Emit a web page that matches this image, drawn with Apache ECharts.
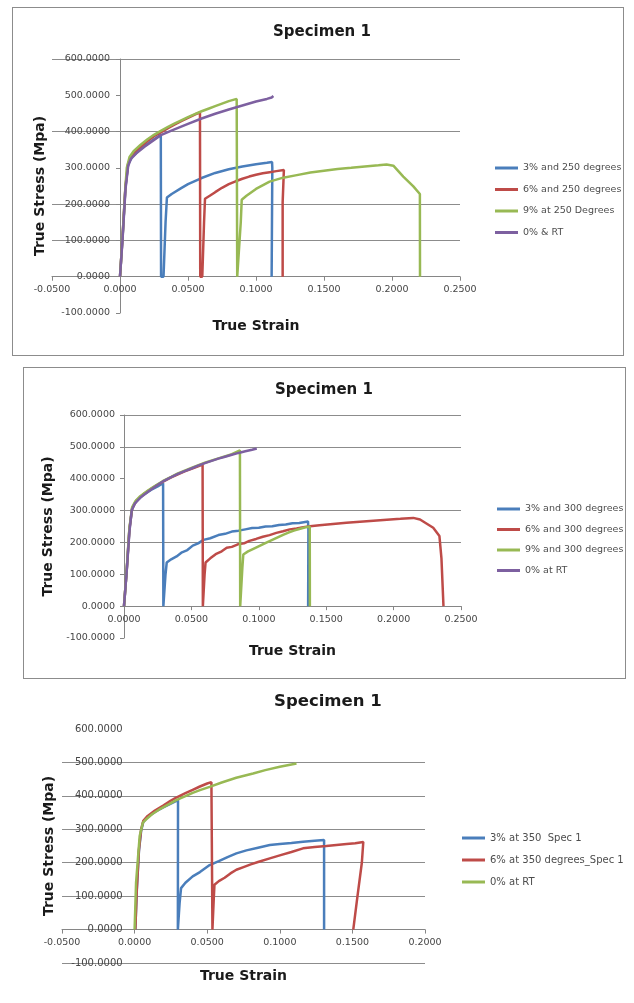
<!DOCTYPE html>
<html>
<head>
<meta charset="utf-8">
<script src="https://cdn.jsdelivr.net/npm/echarts@6/dist/echarts.min.js"></script>
<style>
  body { margin: 0; background: #fff; }
  .box { position: absolute; box-sizing: border-box; }
  #c1 { left: 12px; top: 7px; width: 612px; height: 349px; border: 1px solid #8c8c8c; }
  #c2 { left: 23px; top: 367px; width: 603px; height: 312px; border: 1px solid #8c8c8c; }
  #c3 { left: 23px; top: 680px; width: 611px; height: 323px; }
</style>
</head>
<body>
<div id="c1" class="box"></div>
<div id="c2" class="box"></div>
<div id="c3" class="box"></div>
<script>
// [true strain, true stress (MPa)]

// --- 250 degrees ---
const names250 = ['3% and 250 degrees', '6% and 250 degrees', '9% at 250 Degrees', '0% & RT'];
const s250_3pct = [[0,0],[0.002,115],[0.004,245],[0.006,310],[0.009,330],[0.015,352],[0.020,366],[0.025,379],[0.030,391],
  [0.0302,0],[0.032,0],[0.0335,150],[0.0345,218],[0.038,228],[0.045,244],[0.050,255],[0.060,272],[0.070,286],[0.080,296],
  [0.090,304],[0.100,310],[0.108,314],[0.1118,316],[0.112,300],[0.1115,0]];
const s250_6pct = [[0,0],[0.002,118],[0.004,248],[0.006,312],[0.009,335],[0.015,358],[0.020,373],[0.025,387],[0.030,398],
  [0.035,409],[0.040,419],[0.045,429],[0.050,438],[0.055,447],[0.0588,453],[0.0590,0],[0.0605,0],[0.0618,150],[0.0625,215],
  [0.066,223],[0.070,233],[0.075,245],[0.080,255],[0.085,263],[0.090,270],[0.095,276],[0.100,281],[0.105,285],[0.110,288],
  [0.115,291],[0.1205,294],[0.1212,292],[0.1196,205],[0.1196,0]];
const s250_9pct = [[0,0],[0.002,118],[0.004,250],[0.005,300],[0.007,330],[0.010,346],[0.015,363],[0.020,378],[0.025,391],
  [0.030,402],[0.035,412],[0.040,422],[0.045,431],[0.050,440],[0.055,448],[0.060,456],[0.065,463],[0.070,470],[0.075,477],
  [0.080,484],[0.0858,490],[0.0862,0],[0.0875,0],[0.0888,150],[0.0895,212],[0.093,223],[0.100,242],[0.110,262],[0.120,273],
  [0.130,280],[0.140,287],[0.150,292],[0.160,297],[0.170,300],[0.180,304],[0.190,307],[0.196,309],[0.201,306],[0.2083,276],
  [0.2157,249],[0.2205,228],[0.2206,0]];
const s250_rt = [[0,0],[0.002,110],[0.004,240],[0.006,305],[0.008,325],[0.012,340],[0.018,358],[0.024,374],[0.030,390],
  [0.040,406],[0.050,421],[0.060,436],[0.070,449],[0.080,461],[0.090,472],[0.100,483],[0.108,490],[0.1115,494],[0.1128,498]];

// --- 300 degrees ---
const names300 = ['3% and 300 degrees', '6% and 300 degrees', '9% and 300 degrees', '0% at RT'];
const s300_3pct = [[0,0],[0.002,112],[0.004,240],[0.006,305],[0.009,330],[0.014,348],[0.020,365],[0.025,376],[0.029,386],
  [0.0292,0],[0.0298,0],[0.0308,100],[0.0317,137],[0.035,147],[0.039,156],[0.043,169],[0.047,176],[0.051,190],[0.055,197],
  [0.059,208],[0.064,213],[0.070,223],[0.075,227],[0.080,234],[0.085,237],[0.090,241],[0.095,245],[0.100,246],[0.105,250],
  [0.110,251],[0.115,255],[0.120,256],[0.125,260],[0.130,261],[0.1365,266],[0.1368,240],[0.1366,0]];
const s300_6pct = [[0,0],[0.002,112],[0.004,240],[0.006,306],[0.009,330],[0.014,350],[0.020,368],[0.025,381],[0.030,393],
  [0.035,404],[0.040,414],[0.045,423],[0.050,431],[0.055,439],[0.0583,444],[0.0585,0],[0.059,0],[0.0598,100],[0.0605,137],
  [0.064,150],[0.068,163],[0.0725,172],[0.0762,183],[0.080,186],[0.0845,194],[0.089,197],[0.093,205],[0.098,211],[0.103,218],
  [0.108,223],[0.113,230],[0.118,235],[0.123,241],[0.128,244],[0.133,248],[0.138,251],[0.145,254],[0.155,258],[0.165,262],
  [0.175,265],[0.185,268],[0.195,271],[0.205,274],[0.2146,277],[0.2196,272],[0.2294,246],[0.234,220],[0.2355,150],[0.237,0]];
const s300_9pct = [[0,0],[0.002,115],[0.004,245],[0.006,310],[0.0085,330],[0.012,345],[0.018,364],[0.024,380],[0.029,393],
  [0.035,406],[0.040,417],[0.050,434],[0.060,450],[0.070,464],[0.080,477],[0.086,489],[0.0862,0],[0.0868,0],[0.0878,120],
  [0.0885,162],[0.092,172],[0.096,180],[0.101,190],[0.106,200],[0.110,208],[0.114,216],[0.118,224],[0.122,231],[0.126,237],
  [0.130,242],[0.134,247],[0.1378,250],[0.1379,0]];
const s300_rt = [[0,0],[0.002,108],[0.004,232],[0.0057,300],[0.008,322],[0.012,340],[0.018,360],[0.024,378],[0.029,392],
  [0.035,405],[0.040,415],[0.045,424],[0.050,432],[0.055,441],[0.060,449],[0.065,456],[0.070,463],[0.075,469],[0.080,475],
  [0.085,481],[0.090,486],[0.095,491],[0.0985,495]];

// --- 350 degrees ---
const names350 = ['3% at 350  Spec 1', '6% at 350 degrees_Spec 1', '0% at RT'];
const s350_3pct = [[0.0005,0],[0.0015,115],[0.003,235],[0.0045,295],[0.006,322],[0.009,337],[0.014,352],[0.020,366],
  [0.025,377],[0.0299,387],[0.0298,0],[0.030,0],[0.031,80],[0.032,124],[0.035,140],[0.040,159],[0.045,172],[0.0517,193],
  [0.058,205],[0.064,217],[0.0701,228],[0.077,237],[0.085,245],[0.0931,253],[0.100,256],[0.108,259],[0.116,263],[0.124,266],
  [0.1305,268],[0.1305,0]];
const s350_6pct = [[0.0005,0],[0.0015,120],[0.003,240],[0.0045,300],[0.006,325],[0.009,340],[0.014,356],[0.020,372],
  [0.025,386],[0.0287,395],[0.035,408],[0.040,418],[0.045,428],[0.050,437],[0.0529,441],[0.0536,0],[0.054,0],[0.0545,90],
  [0.055,134],[0.058,145],[0.062,155],[0.066,168],[0.0701,179],[0.075,187],[0.080,195],[0.085,202],[0.0931,213],[0.100,222],
  [0.108,232],[0.116,243],[0.124,247],[0.132,250],[0.139,253],[0.146,256],[0.152,258],[0.1575,262],[0.1565,200],
  [0.1535,100],[0.1506,0]];
const s350_rt = [[0,0],[0.001,140],[0.0035,280],[0.0057,320],[0.008,330],[0.012,345],[0.018,362],[0.024,376],[0.0287,387],
  [0.035,399],[0.040,409],[0.045,417],[0.0517,427],[0.060,440],[0.070,454],[0.0816,467],[0.090,477],[0.100,487],[0.1115,497]];

const BLUE = '#4a7ebb', RED = '#be4b48', GREEN = '#98b954', PURPLE = '#7d60a0';
const GRID = '#8c8c8c';
const FONT = 'DejaVu Sans';

function lines(names, datas, colors) {
    return names.map((n, i) => ({
        name: n,
        type: 'line',
        data: datas[i],
        symbol: 'none',
        color: colors[i],
        lineStyle: { width: 2.5, color: colors[i] }
    }));
}

function build(id, o) {
    const chart = echarts.init(document.getElementById(id));
    // axes cross at (0, 0) like the Excel original: shift each axis to the zero line
    const g = o.grid;
    const xOffset = -(0 - -100) / 700 * g.height;
    const yOffset = -(0 - o.xMin) / (o.xMax - o.xMin) * g.width;
    chart.setOption({
        animation: false,
        textStyle: { fontFamily: FONT },
        title: {
            text: 'Specimen 1',
            left: o.titleLeft,
            top: o.titleTop,
            padding: 0,
            textStyle: { fontFamily: FONT, fontSize: o.titleSize, fontWeight: 'bold', color: '#1a1a1a' }
        },
        legend: {
            orient: 'vertical',
            left: o.legLeft,
            top: o.legTop,
            padding: 0,
            icon: 'rect',
            itemWidth: 23,
            itemHeight: 3,
            itemGap: o.legGap,
            data: o.names,
            textStyle: { fontFamily: FONT, fontSize: o.legSize, lineHeight: 12, color: '#4d4d4d' }
        },
        grid: Object.assign({ outerBoundsMode: 'none', containLabel: false }, g),
        xAxis: {
            type: 'value',
            min: o.xMin,
            max: o.xMax,
            interval: 0.05,
            position: 'bottom',
            offset: xOffset,
            name: 'True Strain',
            nameLocation: 'middle',
            nameGap: o.xNameGap,
            nameTextStyle: { fontFamily: FONT, fontSize: 14, fontWeight: 'bold', color: '#1a1a1a' },
            axisLine: { onZero: false, lineStyle: { color: '#868686', width: 1 } },
            axisTick: { length: 4, lineStyle: { color: '#868686' } },
            axisLabel: { formatter: v => v.toFixed(4), fontSize: 9.5, color: '#454545', margin: 8 },
            splitLine: { show: false }
        },
        yAxis: {
            type: 'value',
            min: -100,
            max: 600,
            interval: 100,
            position: 'left',
            offset: yOffset,
            name: 'True Stress (Mpa)',
            nameLocation: 'middle',
            nameGap: o.yNameGap,
            nameTextStyle: { fontFamily: FONT, fontSize: 14, fontWeight: 'bold', color: '#1a1a1a' },
            axisLine: { show: o.yLine, onZero: false, lineStyle: { color: '#868686', width: 1 } },
            axisTick: { show: o.yLine, length: 4, lineStyle: { color: '#868686' } },
            axisLabel: { formatter: v => v.toFixed(4), fontSize: o.yLabelSize, color: '#454545', margin: o.yLabelMargin },
            splitLine: { show: true, lineStyle: { color: o.gridColors, width: 1 } }
        },
        series: o.series
    });
    return chart;
}

const T = 'transparent';

build('c1', {
    titleLeft: 260, titleTop: 17, titleSize: 15,
    legLeft: 482, legTop: 154, legGap: 9.5, legSize: 9.5,
    names: names250,
    grid: { left: 39, top: 51, width: 408, height: 254 },
    xMin: -0.05, xMax: 0.25, xNameGap: 43,
    yNameGap: 73, yLine: true, yLabelSize: 9.5, yLabelMargin: 10,
    gridColors: [T, GRID, GRID, GRID, T, GRID, T, GRID],
    series: lines(names250, [s250_3pct, s250_6pct, s250_9pct, s250_rt], [BLUE, RED, GREEN, PURPLE])
});

build('c2', {
    titleLeft: 251, titleTop: 15, titleSize: 15,
    legLeft: 473, legTop: 135, legGap: 8.5, legSize: 9.5,
    names: names300,
    grid: { left: 100, top: 47, width: 337, height: 223 },
    xMin: 0, xMax: 0.25, xNameGap: 38,
    yNameGap: 67, yLine: true, yLabelSize: 9.5, yLabelMargin: 9,
    gridColors: [T, GRID, T, GRID, GRID, T, GRID, GRID],
    series: lines(names300, [s300_3pct, s300_6pct, s300_9pct, s300_rt], [BLUE, RED, GREEN, PURPLE])
});

build('c3', {
    titleLeft: 251, titleTop: 13, titleSize: 16.5,
    legLeft: 439, legTop: 152, legGap: 10, legSize: 10,
    names: names350,
    grid: { left: 39, top: 49, width: 363, height: 234 },
    xMin: -0.05, xMax: 0.2, xNameGap: 40,
    yNameGap: 78, yLine: false, yLabelSize: 10, yLabelMargin: 12,
    gridColors: [GRID, GRID, GRID, GRID, GRID, GRID, GRID, T],
    series: lines(names350, [s350_3pct, s350_6pct, s350_rt], [BLUE, RED, GREEN])
});
</script>
</body>
</html>
